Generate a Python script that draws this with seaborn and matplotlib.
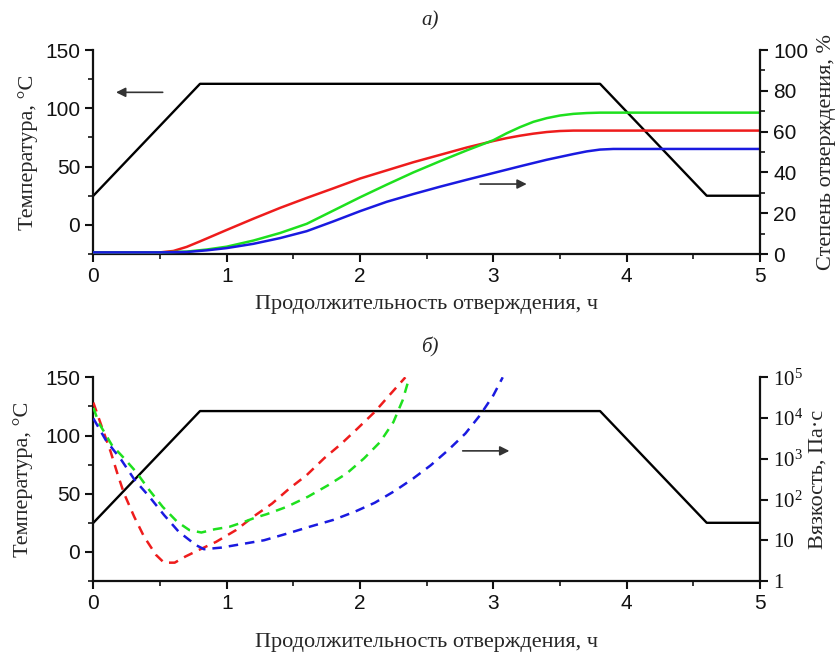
import numpy as np
import pandas as pd
import matplotlib
matplotlib.use("Agg")
import matplotlib.pyplot as plt
from matplotlib.ticker import MultipleLocator, LogLocator, FixedLocator, FixedFormatter, NullFormatter
import seaborn as sns

# ---------------- data ----------------
# temperature programme (°C vs h)
temp_t = [0.0, 0.8, 3.8, 4.6, 5.0]
temp_v = [25, 121, 121, 25, 25]

# degree of cure (%), panel a
red_cure_t = [0, 0.5, 0.6, 0.7, 0.8, 0.9, 1.0, 1.2, 1.4, 1.6, 1.8, 2.0, 2.2, 2.4, 2.6, 2.8, 3.0,
              3.1, 3.2, 3.3, 3.4, 3.5, 3.6, 5.0]
red_cure_v = [0.8, 0.8, 1.5, 3.5, 6.2, 9.0, 11.8, 17.3, 22.6, 27.5, 32.2, 37, 41, 45, 48.6, 52.2, 55.4,
              56.8, 58, 59, 59.8, 60.3, 60.5, 60.5]
green_cure_t = [0, 0.5, 0.7, 0.85, 1.0, 1.2, 1.4, 1.6, 1.8, 2.0, 2.2, 2.4, 2.6, 2.8, 3.0,
                3.1, 3.2, 3.3, 3.4, 3.5, 3.6, 3.7, 3.8, 5.0]
green_cure_v = [0.8, 0.8, 1.2, 2.2, 3.6, 6.6, 10.3, 14.8, 21.3, 27.8, 34, 40, 45.5, 50.8, 55.8,
                59.2, 62.2, 64.8, 66.6, 67.9, 68.7, 69.1, 69.3, 69.3]
blue_cure_t = [0, 0.5, 0.7, 0.85, 1.0, 1.2, 1.4, 1.6, 1.8, 2.0, 2.2, 2.4, 2.6, 2.8, 3.0,
               3.2, 3.4, 3.6, 3.7, 3.8, 3.9, 5.0]
blue_cure_v = [0.8, 0.8, 1.0, 1.8, 2.9, 5.0, 7.8, 11.2, 16, 21, 25.6, 29.4, 33, 36.4, 39.7,
               43, 46.2, 49, 50.3, 51.2, 51.5, 51.5]

# viscosity, log10(Pa·s), panel b
red_visc_t = [0.0, 0.068, 0.13, 0.18, 0.23, 0.306, 0.38, 0.47, 0.53, 0.61, 0.69, 0.79, 0.92, 1.07,
              1.2, 1.34, 1.47, 1.60, 1.73, 1.86, 1.98, 2.11, 2.22, 2.34]
red_visc_log = [4.38, 3.74, 3.17, 2.64, 2.15, 1.58, 1.09, 0.64, 0.45, 0.45, 0.60, 0.76, 0.96, 1.25,
                1.58, 1.90, 2.27, 2.60, 3.01, 3.37, 3.74, 4.15, 4.56, 5.0]
green_visc_t = [0.0, 0.043, 0.14, 0.22, 0.32, 0.42, 0.52, 0.63, 0.72, 0.81, 0.91, 1.02, 1.13, 1.21,
                1.30, 1.45, 1.61, 1.76, 1.90, 2.03, 2.15, 2.25, 2.32, 2.37]
green_visc_log = [4.25, 3.87, 3.33, 3.05, 2.68, 2.23, 1.82, 1.45, 1.25, 1.19, 1.27, 1.33, 1.45, 1.55,
                  1.64, 1.82, 2.07, 2.35, 2.64, 3.01, 3.41, 3.90, 4.44, 5.0]
blue_visc_t = [0.0, 0.093, 0.21, 0.31, 0.42, 0.53, 0.64, 0.77, 0.83, 0.96, 1.12, 1.28, 1.46, 1.62,
               1.80, 1.96, 2.11, 2.26, 2.40, 2.53, 2.66, 2.79, 2.90, 3.0, 3.07]
blue_visc_log = [3.99, 3.46, 2.97, 2.48, 2.07, 1.62, 1.21, 0.88, 0.78, 0.82, 0.91, 1.0, 1.17, 1.33,
                 1.50, 1.70, 1.92, 2.21, 2.52, 2.84, 3.21, 3.62, 4.07, 4.56, 5.0]

x_ticks = [0, 1, 2, 3, 4, 5]
temp_ticks = [0, 50, 100, 150]
cure_ticks = [0, 20, 40, 60, 80, 100]
visc_ticks = [1, 10, 100, 1000, 10000, 100000]
visc_labels = ['1', '10', r'$\mathregular{10^2}$', r'$\mathregular{10^3}$',
               r'$\mathregular{10^4}$', r'$\mathregular{10^5}$']

xlabel = "Продолжительность отверждения, ч"
ylabel_temp = "Температура, °С"
ylabel_cure = "Степень отверждения, %"
ylabel_visc = "Вязкость, Па·с"

RED, GREEN, BLUE = "#ee1c1c", "#1ee01e", "#1a1ae0"

# ---------------- style ----------------
sns.set_style("ticks")
plt.rcParams['font.family'] = ['Liberation Sans', 'DejaVu Sans']
plt.rcParams['mathtext.fontset'] = 'custom'
plt.rcParams['mathtext.rm'] = 'Liberation Serif'
SERIF = ['Liberation Serif', 'DejaVu Serif']
LABEL_FS = 16

fig = plt.figure(figsize=(8.38, 6.52), dpi=100)
axA = fig.add_axes([0.1114, 0.6104, 0.7956, 0.3129])
axB = fig.add_axes([0.1114, 0.1089, 0.7956, 0.3124])

def style_axis(ax):
    ax.tick_params(which='major', direction='out', length=6, width=1.5, labelsize=15, colors='#111')
    ax.tick_params(which='minor', direction='out', length=3.5, width=1.3)
    for s in ax.spines.values():
        s.set_linewidth(1.6)
        s.set_color('#111')
    ax.spines['top'].set_visible(False)

dash = (0, (3.8, 2.8))

for ax, letter, ypos in [(axA, "а)", 0.968), (axB, "б)", 0.467)]:
    sns.lineplot(x=temp_t, y=temp_v, ax=ax, color='black', linewidth=1.7, estimator=None, sort=False)
    ax.set_xlim(0, 5)
    ax.set_ylim(-25, 150)
    ax.xaxis.set_major_locator(FixedLocator(x_ticks))
    ax.xaxis.set_minor_locator(MultipleLocator(0.5))
    ax.yaxis.set_major_locator(FixedLocator(temp_ticks))
    ax.yaxis.set_minor_locator(MultipleLocator(25))
    style_axis(ax)
    ax.spines['right'].set_visible(False)
    ax.set_xlabel(xlabel, family=SERIF, fontsize=LABEL_FS)
    ax.set_ylabel(ylabel_temp, family=SERIF, fontsize=LABEL_FS)
    fig.text(0.513, ypos, letter, family=SERIF, style='italic', fontsize=15, ha='center', va='center')

axA.xaxis.set_label_coords(0.499, -0.20)
axB.xaxis.set_label_coords(0.499, -0.255)
axA.yaxis.set_label_coords(-0.083, 0.5)
axB.yaxis.set_label_coords(-0.091, 0.5)

# panel a: degree of cure
axA2 = axA.twinx()
for t, v, c in [(red_cure_t, red_cure_v, RED), (green_cure_t, green_cure_v, GREEN), (blue_cure_t, blue_cure_v, BLUE)]:
    sns.lineplot(x=t, y=v, ax=axA2, color=c, linewidth=1.8, estimator=None, sort=False)
axA2.set_ylim(0, 100)
axA2.set_xlim(0, 5)
axA2.yaxis.set_major_locator(FixedLocator(cure_ticks))
axA2.yaxis.set_minor_locator(MultipleLocator(10))
style_axis(axA2)
axA2.spines['left'].set_visible(False)
axA2.spines['bottom'].set_visible(False)
axA2.set_ylabel(ylabel_cure, family=SERIF, fontsize=LABEL_FS)
axA2.yaxis.set_label_coords(1.085, 0.5)

# panel b: viscosity
axB2 = axB.twinx()
for t, v, c in [(red_visc_t, red_visc_log, RED), (green_visc_t, green_visc_log, GREEN), (blue_visc_t, blue_visc_log, BLUE)]:
    sns.lineplot(x=t, y=10 ** np.asarray(v), ax=axB2, color=c, linewidth=1.8, estimator=None,
                 sort=False, linestyle=dash)
axB2.set_yscale('log')
axB2.set_ylim(1, 1e5)
axB2.set_xlim(0, 5)
axB2.yaxis.set_major_locator(FixedLocator(visc_ticks))
axB2.yaxis.set_major_formatter(FixedFormatter(visc_labels))
axB2.yaxis.set_minor_locator(LogLocator(base=10, subs=np.arange(2, 10)))
axB2.yaxis.set_minor_formatter(NullFormatter())
style_axis(axB2)
axB2.tick_params(axis='y', which='major', labelsize=15)
for lab in axB2.get_yticklabels():
    lab.set_family(SERIF)
axB2.spines['left'].set_visible(False)
axB2.spines['bottom'].set_visible(False)
axB2.set_ylabel(ylabel_visc, family=SERIF, fontsize=LABEL_FS)
axB2.yaxis.set_label_coords(1.073, 0.5)

# arrows indicating axes
arrow = dict(arrowstyle='-|>', color='#333', lw=1.2, mutation_scale=14, shrinkA=0, shrinkB=0)
axA.annotate('', xy=(0.17, 113.7), xytext=(0.52, 113.7), arrowprops=arrow)
axA2.annotate('', xy=(3.25, 34.3), xytext=(2.90, 34.3), arrowprops=arrow)
axB.annotate('', xy=(3.12, 86.8), xytext=(2.77, 86.8), arrowprops=arrow)

fig.savefig("out.png", dpi=100)
